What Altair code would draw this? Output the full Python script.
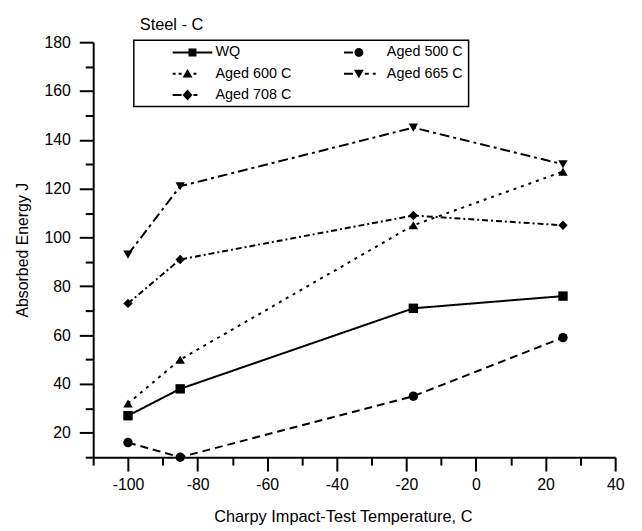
import altair as alt
import pandas as pd

# ---- data ----
temps = [-100, -85, -18, 25]
series_names = ["WQ", "Aged 500 C", "Aged 600 C", "Aged 665 C", "Aged 708 C"]
wq = [27, 38, 71, 76]
aged_500 = [16, 10, 35, 59]
aged_600 = [32, 50, 105, 127]
aged_665 = [93, 121, 145, 130]
aged_708 = [73, 91, 109, 105]

x_ticks = list(range(-110, 41, 10))
y_ticks = list(range(10, 181, 10))

# styles
dashes = [[1, 0], [8, 5], [3, 5], [10, 4, 3, 4], [6, 3, 2, 3]]
markers = ["square", "circle", "triangle-up", "triangle-down", "diamond"]


# legend glyphs: dashed line pieces plus marker, drawn as filled paths
# (unit coordinates; 1 unit = 5 px at symbolSize 100)
def bar(a, b):
    return f"M{a},-0.2L{b},-0.2L{b},0.2L{a},0.2Z"


sq = "M-0.8,-0.8L0.8,-0.8L0.8,0.8L-0.8,0.8Z"
circ = "M-1.9,0A0.9,0.9,0,1,0,-0.1,0A0.9,0.9,0,1,0,-1.9,0Z"
tri_up = "M-1,-0.95L0,0.8L-2,0.8Z"
tri_dn = "M-1,0.95L0,-0.8L-2,-0.8Z"
diam = "M-1,-1.1L0,0L-1,1.1L-2,0Z"
legend_symbols = [
    bar(-4, 4) + sq,
    bar(-4, -2.2) + circ,
    bar(-4, -3.4) + bar(-2.8, -2.2) + tri_up + bar(0.2, 0.8),
    bar(-4, -2.2) + tri_dn + bar(0.2, 1.0) + bar(1.8, 2.4),
    bar(-4, -2.2) + diam + bar(0.2, 1.0),
]

values = [wq, aged_500, aged_600, aged_665, aged_708]
rows = []
for name, mk, vals in zip(series_names, markers, values):
    for t, v in zip(temps, vals):
        rows.append({"temp": t, "energy": v, "series": name, "marker": mk})
df = pd.DataFrame(rows)

FONT = "Liberation Sans"
MAJOR = "datum.value % 20 === 0"

x_enc = alt.X(
    "temp:Q",
    scale=alt.Scale(domain=[-110, 40], nice=False, zero=False),
    axis=alt.Axis(
        values=x_ticks,
        labelExpr=f"{MAJOR} ? '' + datum.value : ''",
        tickSize={"condition": {"test": MAJOR, "value": 14}, "value": 8},
        title="Charpy Impact-Test Temperature, C",
        titlePadding=16,
        titleX=252,
        labelPadding=6,
        labelFlush=False,
        titleFontSize=16.5,
    ),
)
y_enc = alt.Y(
    "energy:Q",
    scale=alt.Scale(domain=[10, 180], nice=False, zero=False),
    axis=alt.Axis(
        values=y_ticks,
        labelExpr=f"{MAJOR} ? '' + datum.value : ''",
        tickSize={"condition": {"test": MAJOR, "value": 14}, "value": 8},
        title="Absorbed Energy   J",
        titlePadding=14,
        labelPadding=9,
        labelFlush=False,
    ),
)

# legend-only layer (no visible data marks)
legend_layer = (
    alt.Chart(df)
    .transform_filter("false")
    .mark_point(filled=True, color="black", opacity=1)
    .encode(
        x=x_enc,
        y=y_enc,
        shape=alt.Shape(
            "series:N",
            scale=alt.Scale(domain=series_names, range=legend_symbols),
            legend=alt.Legend(
                orient="none", legendX=41, legendY=-2, columns=2, columnPadding=39,
                direction="horizontal", rowPadding=6.5,
                title=" ", titleOrient="left", titlePadding=21, titleFontSize=14,
                labelFontSize=14.5, labelFont=FONT, labelColor="black",
                labelOffset=16, symbolOffset=26, padding=5,
                symbolSize=100, symbolStrokeWidth=0,
                symbolFillColor="black", symbolOpacity=1, strokeColor="black",
            ),
        ),
    )
)

lines = alt.Chart(df).mark_line(color="black", strokeWidth=2).encode(
    x=x_enc,
    y=y_enc,
    strokeDash=alt.StrokeDash(
        "series:N", scale=alt.Scale(domain=series_names, range=dashes), legend=None
    ),
)

points = alt.Chart(df).mark_point(filled=True, color="black", size=90, opacity=1).encode(
    x=x_enc,
    y=y_enc,
    shape=alt.Shape("marker:N", scale=None),
    detail="series:N",
)

chart = (
    alt.layer(legend_layer, lines, points)
    .properties(
        width=527,
        height=419,
        title=alt.TitleParams(
            "Steel - C", anchor="start", frame="group", dx=47, fontSize=16.5,
            fontWeight="normal", font=FONT, color="black", offset=1,
        ),
        padding={"left": 6, "top": 6, "right": 10, "bottom": 5},
    )
    .configure_view(stroke=None)
    .configure_axis(
        grid=False, domainColor="black", domainWidth=2, tickColor="black",
        tickWidth=2, labelColor="black", labelFont=FONT, labelFontSize=16,
        titleFont=FONT, titleFontSize=16, titleFontWeight="normal",
        titleColor="black",
    )
    .configure_legend(strokeWidth=1.5)
)

chart.save("out.html", embed_options={"renderer": "svg", "actions": False})
